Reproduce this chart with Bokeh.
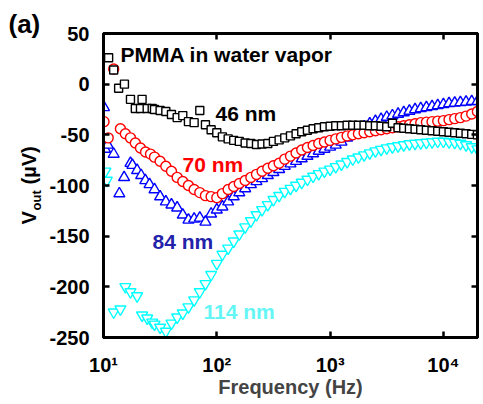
import math
from bokeh.plotting import figure
from bokeh.layouts import row
from bokeh.models import Range1d, FixedTicker, LogAxis, LinearAxis, Label
from bokeh.embed import file_html
from bokeh.resources import INLINE

FONT = "Liberation Sans"

# 46 nm film (squares)
f46 = [11.1, 12.3, 13.6, 15.3, 17.3, 19.1, 21.2, 21.9, 24.3, 26.9,
       28.2, 31.6, 35.5, 39.8, 44.7, 50.1, 56.2, 63.1, 70.8, 79.4, 89.1,
       100, 112, 126, 141, 158, 178, 200, 224, 251, 282, 316, 355, 398, 447,
       501, 562, 631, 708, 794, 891, 1000, 1122, 1259, 1413, 1585, 1778, 1995,
       2239, 2512, 2818, 3162, 3548, 3981, 4467, 5012, 5623, 6310, 7079, 7943,
       8913, 10000, 11220, 12589, 14125, 15849, 17783, 19953]
v46 = [26, 14, -4, 0, -15, -24, -24, -15, -24, -24,
       -25, -26, -27, -30, -33, -31, -37, -38, -26, -40, -45,
       -48, -52, -54, -55.5, -56.5, -58, -58.5, -59.5, -59, -58.5, -56.5, -55, -53, -51,
       -49, -47, -45.5, -44, -43, -42, -41.5, -41, -41, -40.5, -40.5, -40.5, -40.5,
       -41, -41, -41.5, -42, -38.5, -43, -43.5, -44, -44.5, -45, -45.5, -46,
       -46.5, -47, -47.5, -48, -48.5, -49, -49.5, -50]

# 70 nm film (circles)
f70 = [10.1, 11.0, 12.3, 14.1, 15.6, 17.3, 19.1, 21.2, 23.5, 26.0,
       28.2, 31.6, 35.5, 39.8, 44.7, 50.1, 56.2, 63.1, 70.8, 79.4, 89.1,
       100, 112, 126, 141, 158, 178, 200, 224, 251, 282, 316, 355, 398, 447,
       501, 562, 631, 708, 794, 891, 1000, 1122, 1259, 1413, 1585, 1778, 1995,
       2239, 2512, 2818, 3162, 3548, 3981, 4467, 5012, 5623, 6310, 7079, 7943,
       8913, 10000, 11220, 12589, 14125, 15849, 17783, 19953]
v70 = [-37, -53, 15, -44, -49, -53, -58, -63, -67, -69,
       -72, -76, -81, -86, -92, -96, -100, -104, -107, -110, -111,
       -112, -108, -104, -101, -98, -95, -92, -89, -86, -83, -80.5, -78, -74, -71,
       -68, -65, -62.5, -60.5, -58.5, -57, -55.5, -54, -52.5, -51, -50, -49, -48,
       -47, -46, -45, -44, -43, -42, -41, -40, -39, -38, -37.5, -37,
       -36.5, -36, -35, -34, -33, -31.5, -29.5, -27]

# 84 nm film (triangles)
f84 = [10.1, 10.3, 10.9, 12.3, 13.8, 15.2, 17.3, 18.0, 19.8, 21.5, 23.4, 25.5,
       28.2, 31.6, 35.5, 39.8, 44.7, 50.1, 56.2, 63.1, 70.8, 79.4, 89.1,
       100, 112, 126, 141, 158, 178, 200, 224, 251, 282, 316, 355, 398, 447,
       501, 562, 631, 708, 794, 891, 1000, 1122, 1259, 1413, 1585, 1778, 1995,
       2239, 2512, 2818, 3162, 3548, 3981, 4467, 5012, 5623, 6310, 7079, 7943,
       8913, 10000, 11220, 12589, 14125, 15849, 17783, 19953]
v84 = [-23, -64, -60, -69, -108, -92, -78, -80, -85, -90, -95, -99,
       -104, -111, -116, -119, -122, -129, -134, -133, -132, -136, -128,
       -124, -121, -116, -111, -107, -103, -99, -96, -93, -90, -87, -84, -81, -78.5,
       -76, -73.5, -71, -68.5, -66, -64, -62, -60, -57, -53, -49, -45.5, -42,
       -39, -36.5, -34.5, -32.5, -31, -29.5, -28, -26.5, -25, -24, -23, -22,
       -21, -20, -19, -18.5, -18, -17.5, -17, -17]

# 114 nm film (inverted triangles)
f114 = [10.4, 10.7, 12.3, 14.1, 15.6, 17.3, 19.8, 21.9, 24.3, 26.9,
        28.2, 31.6, 35.5, 39.8, 44.7, 50.1, 56.2, 63.1, 70.8, 79.4, 89.1,
        100, 112, 126, 141, 158, 178, 200, 224, 251, 282, 316, 355, 398, 447,
        501, 562, 631, 708, 794, 891, 1000, 1122, 1259, 1413, 1585, 1778, 1995,
        2239, 2512, 2818, 3162, 3548, 3981, 4467, 5012, 5623, 6310, 7079, 7943,
        8913, 10000, 11220, 12589, 14125, 15849, 17783, 19953]
v114 = [-86, -95, -225, -222, -200, -205, -209, -228, -231, -235,
        -237, -240, -244, -236, -230, -226, -220, -213, -205, -197, -188,
        -177, -168, -162, -155, -148, -141, -135, -129, -124, -119, -114, -110, -106, -103,
        -100, -97, -94, -91, -88.5, -86, -84, -81.5, -79, -76.5, -74, -72, -70,
        -68, -66, -64.5, -63, -62, -61, -60, -59, -58.5, -58, -57.5, -57,
        -56.5, -56.5, -57, -57.5, -58.5, -60, -62, -64]

x_ticks = [10, 100, 1000, 10000]
x_tick_labels = ["10\u00b9", "10\u00b2", "10\u00b3", "10\u2074"]
y_ticks = [-250, -200, -150, -100, -50, 0, 50]

LEFT_W = 44   # strip holding the panel letter and the y title
H = 404


def bold_label(txt, x, y, color="black", size="21px", angle=0.0):
    return Label(x=x, y=y, text=txt, text_color=color, text_font=FONT,
                 text_font_style="bold", text_font_size=size,
                 text_align="left", text_baseline="middle", angle=angle)


# ---- left strip: panel letter and rotated y-axis title (pixel coordinates) ----
strip = figure(width=LEFT_W, height=H, x_range=Range1d(0, LEFT_W),
               y_range=Range1d(H, 0), output_backend="svg", title=None,
               toolbar_location=None, x_axis_location=None,
               y_axis_location=None, min_border=0)
strip.min_border_left = strip.min_border_right = 0
strip.min_border_top = strip.min_border_bottom = 0
strip.frame_align = False
strip.outline_line_color = None
strip.xgrid.visible = False
strip.ygrid.visible = False
strip.add_layout(bold_label("(a)", 8, 23, size="26px"))
strip.add_layout(bold_label("V", 28.5, 224, size="20px", angle=math.pi / 2))
strip.add_layout(bold_label("out", 35.5, 210, size="13px", angle=math.pi / 2))
strip.add_layout(bold_label("(\u00b5V)", 28.5, 184, size="20px", angle=math.pi / 2))

# ---- main plot ----
p = figure(width=483 - LEFT_W, height=H, x_axis_type="log",
           x_range=Range1d(10, 20000), y_range=Range1d(-250, 50),
           output_backend="svg", toolbar_location=None,
           min_border_left=103 - LEFT_W, min_border_right=6,
           min_border_top=33, min_border_bottom=67)
p.frame_align = False
p.xgrid.visible = False
p.ygrid.visible = False
p.outline_line_color = "black"
p.outline_line_width = 3


def style_axis(ax, ticks, labels):
    ax.ticker = FixedTicker(ticks=ticks)
    ax.major_label_overrides = {t: s for t, s in zip(ticks, labels)}
    ax.axis_line_width = 3
    ax.axis_line_color = "black"
    ax.major_tick_in = 6
    ax.major_tick_out = 0
    ax.major_tick_line_width = 2.5
    ax.minor_tick_line_color = None
    ax.major_label_text_font = FONT
    ax.major_label_text_font_style = "bold"
    ax.major_label_text_color = "black"
    ax.major_label_text_font_size = "20px"


xb = p.xaxis[0]
style_axis(xb, x_ticks, x_tick_labels)
xb.major_label_standoff = 16
xb.axis_label = "Frequency (Hz)"
xb.axis_label_text_font = FONT
xb.axis_label_text_font_style = "bold"
xb.axis_label_text_font_size = "20px"
xb.axis_label_standoff = -3

yl = p.yaxis[0]
style_axis(yl, y_ticks, [str(t) for t in y_ticks])
yl.major_label_standoff = 14

# mirrored tick marks on the top and right edges, without labels
top = LogAxis()
style_axis(top, x_ticks, ["" for _ in x_ticks])
top.major_label_standoff = 0
p.add_layout(top, "above")
right = LinearAxis()
style_axis(right, y_ticks, ["" for _ in y_ticks])
right.major_label_standoff = 0
p.add_layout(right, "right")

# data series, drawn back to front
p.scatter(f114, v114, marker="inverted_triangle", size=11, line_color="#00ffff",
          fill_color="white", line_width=1.4)
p.scatter(f84, v84, marker="triangle", size=11, line_color="#0000ff",
          fill_color="white", line_width=1.4)
p.scatter(f70, v70, marker="circle", size=10, line_color="#ff0000",
          fill_color="white", line_width=1.4)
p.scatter(f46, v46, marker="square", size=8, line_color="black",
          fill_color="white", line_width=1.4)

p.add_layout(bold_label("PMMA in water vapor", 14.1, 29))
p.add_layout(bold_label("46 nm", 97.4, -29))
p.add_layout(bold_label("70 nm", 49.8, -79, color="#ff0000"))
p.add_layout(bold_label("84 nm", 27.1, -155, color="#2222aa"))
p.add_layout(bold_label("114 nm", 76.3, -224, color="#66f5f5"))

layout = row(strip, p, spacing=0)
open("out.html", "w").write(file_html(layout, INLINE))
